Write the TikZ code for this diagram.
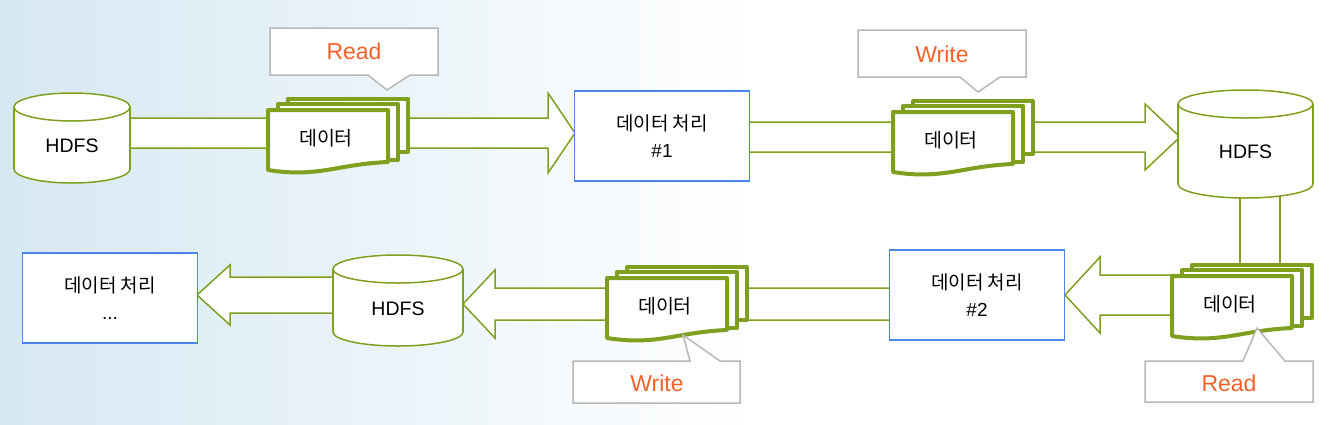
\documentclass[tikz,border=0pt]{standalone}
\usepackage{fontspec}
\setmainfont{Liberation Sans}
\newfontfamily\kr{Noto Sans CJK KR}
\definecolor{grn}{HTML}{7F9F1F}
\definecolor{bluebox}{HTML}{4A86E8}
\definecolor{callgray}{HTML}{B8B8B8}
\definecolor{orng}{HTML}{F4622A}
\definecolor{bgb}{HTML}{D6E8F3}
\tikzset{
  harrow/.style={draw=grn,fill=white,line width=1.5pt,line join=miter},
  cylline/.style={draw=grn,fill=white,line width=1.5pt},
  procbox/.style={draw=bluebox,fill=white,line width=1.8pt,minimum width=175pt,minimum height=90pt,align=center,font=\fontsize{19}{27}\selectfont},
  sheet/.style={draw=grn,fill=white,line width=4pt,line join=round},
  callbox/.style={draw=callgray,fill=white,line width=1.5pt},
  calltext/.style={text=orng,font=\fontsize{23}{26}\selectfont},
  lbl/.style={font=\fontsize{19.5}{22}\selectfont}
}
\newcommand\hollowarrow[6]{% xs xb xt yc hw H
  \draw[harrow] ({#1},{#4-#5})--({#2},{#4-#5})--({#2},{#4-#6})--({#3},{#4})--({#2},{#4+#6})--({#2},{#4+#5})--({#1},{#4+#5});}
\newcommand\cyl[6]{% name x0 x1 ytop ybot text
  \filldraw[cylline] ({(#2+#3)/2},{#5-14}) ellipse ({(#3-#2)/2} and 14);
  \fill[white] ({#2},{#4+14}) rectangle ({#3},{#5-14});
  \draw[cylline] ({#2},{#4+14})--({#2},{#5-14}) ({#3},{#4+14})--({#3},{#5-14});
  \filldraw[cylline] ({(#2+#3)/2},{#4+14}) ellipse ({(#3-#2)/2} and 14);
  \node[lbl] (#1) at ({(#2+#3)/2},{(#4+#5)/2+8}) {#6};}
\newcommand\docs[4]{% name x y text
  \draw[sheet] ({#2+20},{#3-11}) rectangle ({#2+140},{#3+42});
  \draw[sheet] ({#2+10},{#3-6}) rectangle ({#2+130},{#3+50});
  \draw[sheet] ({#2},{#3}) -- ({#2+120},{#3}) -- ({#2+120},{#3+52})
     .. controls ({#2+70},{#3+54}) and ({#2+50},{#3+68}) .. ({#2},{#3+60}) -- cycle;
  \node[lbl] (#1) at ({#2+58},{#3+28}) {\kr #4};}
\begin{document}
\begin{tikzpicture}[x=1pt,y=-1pt]
\useasboundingbox (0,0) rectangle (1342,424);
\shade[left color=bgb,right color=white] (0,0) rectangle (760,424);
\fill[white] (759,0) rectangle (1342,424);
% arrows
\hollowarrow{125}{548}{575}{133}{15}{40}
\hollowarrow{745}{1145}{1180}{137}{15}{33}
\draw[harrow] (1240,185) -- (1240,268) -- (1280,268) -- (1280,185);
\hollowarrow{1180}{1100}{1065}{295}{20}{38}
\hollowarrow{895}{495}{463}{304}{16}{34}
\hollowarrow{340}{230}{197}{295}{18}{30}
% cylinders
\cyl{hdfsA}{14}{130}{93}{183}{HDFS}
\cyl{hdfsB}{1178}{1313}{90}{198}{HDFS}
\cyl{hdfsC}{333}{463}{255}{346}{HDFS}
% process boxes
\node[procbox] (procA) at (662,136) {{\kr 데이터 처리}\\\#1};
\node[procbox] (procB) at (977,295) {{\kr 데이터 처리}\\\#2};
\node[procbox] (procC) at (110,298) {{\kr 데이터 처리}\\...};
% documents
\docs{docA}{268}{110}{데이터}
\docs{docB}{893}{112}{데이터}
\docs{docC}{1172}{276}{데이터}
\docs{docD}{607}{278}{데이터}
% callouts
\draw[callbox] (270,28)--(438,28)--(438,75)--(410,75)--(387,90)--(368,75)--(270,75)--cycle;
\node[calltext] (readA) at (354,51) {Read};
\draw[callbox] (858,30)--(1026,30)--(1026,77)--(1000,77)--(978,92)--(960,77)--(858,77)--cycle;
\node[calltext] (writeA) at (942,54) {Write};
\draw[callbox] (1145,361)--(1243,361)--(1257,328)--(1285,361)--(1313,361)--(1313,402)--(1145,402)--cycle;
\node[calltext] (readB) at (1229,383) {Read};
\draw[callbox] (573,361)--(690,361)--(683,335)--(720,361)--(740,361)--(740,403)--(573,403)--cycle;
\node[calltext] (writeB) at (657,383) {Write};
\end{tikzpicture}
\end{document}
